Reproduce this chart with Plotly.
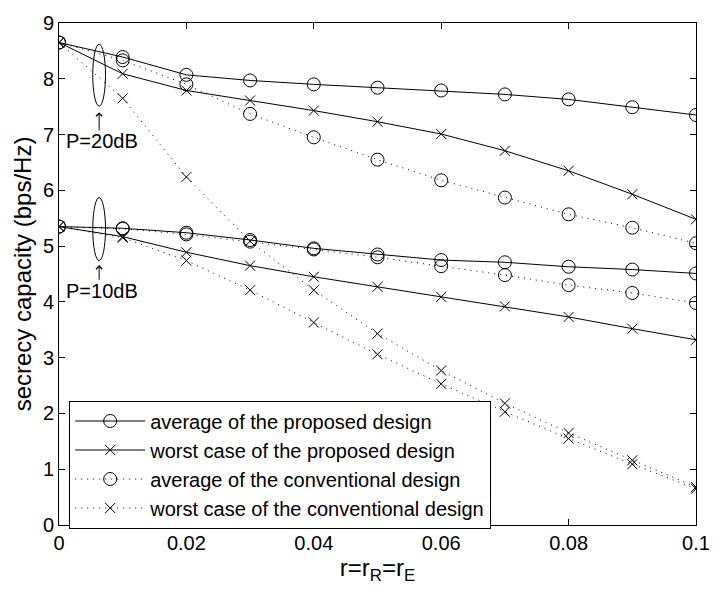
import plotly.graph_objects as go

r = [0, 0.01, 0.02, 0.03, 0.04, 0.05, 0.06, 0.07, 0.08, 0.09, 0.1]

# P = 20 dB
avg_prop_20 = [8.65, 8.39, 8.07, 7.97, 7.90, 7.84, 7.79, 7.72, 7.63, 7.49, 7.35]
worst_prop_20 = [8.65, 8.09, 7.79, 7.61, 7.43, 7.23, 7.01, 6.71, 6.35, 5.93, 5.48]
avg_conv_20 = [8.65, 8.33, 7.90, 7.37, 6.95, 6.55, 6.18, 5.87, 5.57, 5.33, 5.05]
worst_conv_20 = [8.65, 7.65, 6.24, 5.09, 4.21, 3.43, 2.77, 2.18, 1.65, 1.16, 0.68]

# P = 10 dB
avg_prop_10 = [5.35, 5.32, 5.24, 5.11, 4.96, 4.85, 4.75, 4.71, 4.63, 4.58, 4.51]
worst_prop_10 = [5.35, 5.17, 4.89, 4.65, 4.45, 4.27, 4.09, 3.92, 3.73, 3.52, 3.32]
avg_conv_10 = [5.35, 5.31, 5.21, 5.08, 4.94, 4.80, 4.64, 4.48, 4.30, 4.16, 3.98]
worst_conv_10 = [5.35, 5.15, 4.74, 4.21, 3.63, 3.06, 2.53, 2.03, 1.55, 1.09, 0.65]

names = [
    "average of the proposed design",
    "worst case of the proposed design",
    "average of the conventional design",
    "worst case of the conventional design",
]

x_ticks = [0, 0.02, 0.04, 0.06, 0.08, 0.1]
x_tick_labels = ["0", "0.02", "0.04", "0.06", "0.08", "0.1"]
y_ticks = [0, 1, 2, 3, 4, 5, 6, 7, 8, 9]

FONT = "Liberation Sans, Arial, sans-serif"
FS = 20

styles = [
    dict(dash="solid", symbol="circle-open", size=13),
    dict(dash="solid", symbol="x-thin-open", size=10),
    dict(dash="1px,5px", symbol="circle-open", size=13),
    dict(dash="1px,5px", symbol="x-thin-open", size=10),
]

fig = go.Figure()
series20 = [avg_prop_20, worst_prop_20, avg_conv_20, worst_conv_20]
series10 = [avg_prop_10, worst_prop_10, avg_conv_10, worst_conv_10]

for i, (name, st) in enumerate(zip(names, styles)):
    for j, ys in enumerate([series20[i], series10[i]]):
        fig.add_trace(go.Scatter(
            x=r, y=ys, mode="lines+markers", name=name,
            legendgroup=name, showlegend=(j == 0),
            line=dict(color="black", width=1, dash=st["dash"]),
            marker=dict(symbol=st["symbol"], size=st["size"], color="black",
                        line=dict(color="black", width=1)),
        ))

# ellipses marking the groups of curves
fig.add_shape(type="circle", xref="x", yref="y",
              x0=0.0053, x1=0.0073, y0=7.51, y1=8.62,
              line=dict(color="black", width=1))
fig.add_shape(type="circle", xref="x", yref="y",
              x0=0.0053, x1=0.0073, y0=4.74, y1=5.87,
              line=dict(color="black", width=1))

# arrows
for (tip, tail) in [(7.40, 7.05), (4.66, 4.37)]:
    fig.add_annotation(x=0.0063, y=tip, ax=0.0063, ay=tail,
                       xref="x", yref="y", axref="x", ayref="y",
                       text="", showarrow=True, arrowhead=4, arrowsize=1.2,
                       arrowwidth=1, arrowcolor="black")

fig.add_annotation(x=0.0067, y=6.89, xref="x", yref="y", text="P=20dB",
                   showarrow=False, font=dict(family=FONT, size=FS, color="black"))
fig.add_annotation(x=0.0067, y=4.20, xref="x", yref="y", text="P=10dB",
                   showarrow=False, font=dict(family=FONT, size=FS, color="black"))

fig.update_layout(
    width=722, height=589,
    margin=dict(l=59, r=16, t=16, b=64),
    paper_bgcolor="white", plot_bgcolor="white",
    font=dict(family=FONT, size=FS, color="black"),
    showlegend=True,
    legend=dict(x=0.016, y=0.248, xanchor="left", yanchor="top",
                bordercolor="black", borderwidth=1, bgcolor="white",
                font=dict(family=FONT, size=FS, color="black"),
                tracegroupgap=0, itemwidth=70),
    xaxis=dict(range=[0, 0.1], tickvals=x_ticks, ticktext=x_tick_labels,
               showgrid=False, zeroline=False, showline=True, linecolor="black",
               linewidth=1, mirror="ticks", ticks="inside", ticklen=6,
               tickcolor="black",
               title=dict(text="r=r<sub>R</sub>=r<sub>E</sub>", standoff=6)),
    yaxis=dict(range=[0, 9], tickvals=y_ticks,
               showgrid=False, zeroline=False, showline=True, linecolor="black",
               linewidth=1, mirror="ticks", ticks="inside", ticklen=6,
               tickcolor="black",
               title=dict(text="secrecy capacity (bps/Hz)", standoff=4)),
)

fig.write_html("out.html")
